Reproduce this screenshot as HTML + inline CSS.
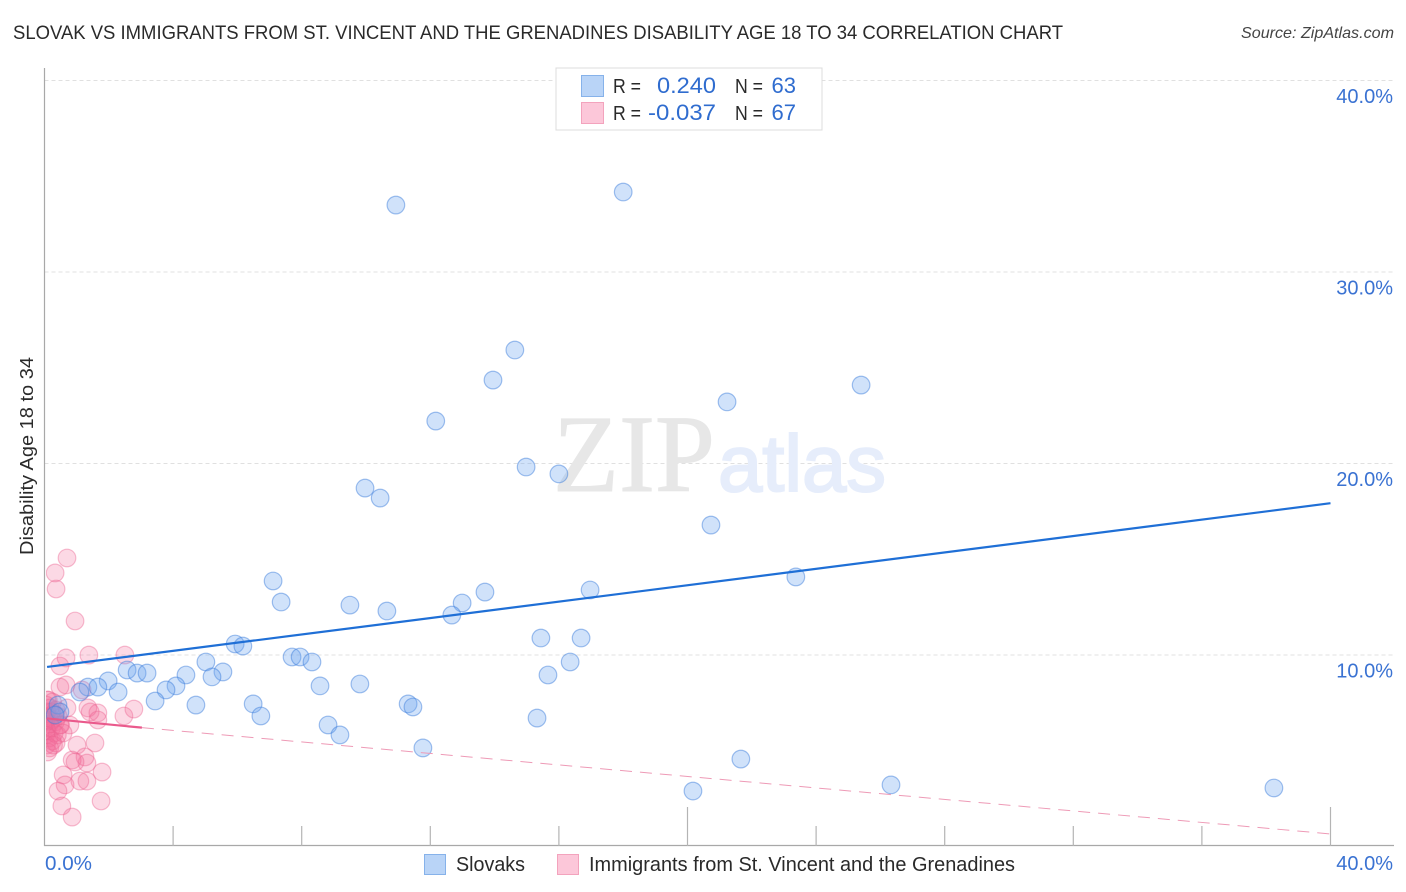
<!DOCTYPE html>
<html lang="en">
<head>
<meta charset="utf-8">
<title>Slovak vs Immigrants from St. Vincent and the Grenadines Disability Correlation Chart</title>
<style>
html,body{margin:0;padding:0;background:#fff;}
body{width:1406px;height:892px;overflow:hidden;}
svg{display:block;font-family:"Liberation Sans",sans-serif;}
</style>
</head>
<body>
<svg id="chart" width="1406" height="892" viewBox="0 0 1406 892" xmlns="http://www.w3.org/2000/svg">
  <defs>
    <clipPath id="plot-clip"><rect x="46" y="60" width="1350" height="786"/></clipPath>
  </defs>
  <rect x="0" y="0" width="1406" height="892" fill="#ffffff"/>
  <text x="13" y="39" font-size="19" fill="#2a2a2a" textLength="1050" lengthAdjust="spacingAndGlyphs">SLOVAK VS IMMIGRANTS FROM ST. VINCENT AND THE GRENADINES DISABILITY AGE 18 TO 34 CORRELATION CHART</text>
  <text x="1394" y="38" font-size="16" font-style="italic" fill="#444" text-anchor="end" textLength="153" lengthAdjust="spacingAndGlyphs">Source: ZipAtlas.com</text>
  <g id="grid"></g>
  <g>
    <text x="553" y="491" font-family="'Liberation Serif',serif" font-size="110" fill="#e7e7e7" stroke="#e7e7e7" stroke-width="1" textLength="162" lengthAdjust="spacingAndGlyphs">ZIP</text>
    <text x="718" y="491" font-size="80" fill="#e6edfb" stroke="#e6edfb" stroke-width="2" textLength="168" lengthAdjust="spacingAndGlyphs">atlas</text>
  </g>
  <g id="axes"></g>
  <g clip-path="url(#plot-clip)">
    <g id="pink-points"></g>
    <g id="blue-points"></g>
  </g>
  <g id="trends"></g>
  <g id="labels"></g>
  <text transform="translate(33,456) rotate(-90)" font-size="18" fill="#2a2a2a" text-anchor="middle" textLength="198" lengthAdjust="spacingAndGlyphs">Disability Age 18 to 34</text>

  <g>
    <rect x="556" y="68" width="266" height="62" fill="#ffffff" stroke="#dcdcdc" stroke-width="1"/>
    <rect x="581.5" y="75.5" width="22" height="21" fill="#b9d4f7" stroke="#86b2ea" stroke-width="1"/>
    <rect x="581.5" y="102.5" width="22" height="21" fill="#fcc7d9" stroke="#f3a3bd" stroke-width="1"/>
    <text x="613" y="93" font-size="20" fill="#2a2a2a" textLength="28" lengthAdjust="spacingAndGlyphs">R =</text>
    <text x="657" y="93" font-size="22" fill="#2f6ccf" textLength="59" lengthAdjust="spacingAndGlyphs">0.240</text>
    <text x="735" y="93" font-size="20" fill="#2a2a2a" textLength="28" lengthAdjust="spacingAndGlyphs">N =</text>
    <text x="796" y="93" font-size="22" fill="#2f6ccf" text-anchor="end">63</text>
    <text x="613" y="120" font-size="20" fill="#2a2a2a" textLength="28" lengthAdjust="spacingAndGlyphs">R =</text>
    <text x="648" y="120" font-size="22" fill="#2f6ccf" textLength="68" lengthAdjust="spacingAndGlyphs">-0.037</text>
    <text x="735" y="120" font-size="20" fill="#2a2a2a" textLength="28" lengthAdjust="spacingAndGlyphs">N =</text>
    <text x="796" y="120" font-size="22" fill="#2f6ccf" text-anchor="end">67</text>
  </g>

  <g>
    <rect x="424.5" y="854.5" width="21" height="20" fill="#b9d4f7" stroke="#86b2ea" stroke-width="1"/>
    <text x="456" y="871" font-size="20" fill="#2a2a2a" textLength="69" lengthAdjust="spacingAndGlyphs">Slovaks</text>
    <rect x="557.5" y="854.5" width="21" height="20" fill="#fcc7d9" stroke="#f3a3bd" stroke-width="1"/>
    <text x="589" y="871" font-size="20" fill="#2a2a2a" textLength="426" lengthAdjust="spacingAndGlyphs">Immigrants from St. Vincent and the Grenadines</text>
  </g>
</svg>
<script>
var slovakX = [10.93,18.0,14.63,13.95,25.4,21.23,12.17,14.98,16.0,9.97,10.44,20.73,7.11,23.37,16.97,13.7,12.99,7.36,9.5,10.65,12.67,15.44,16.69,5.93,6.17,7.7,7.95,8.32,5.02,16.35,2.57,2.88,3.19,4.4,5.55,5.21,15.66,1.98,1.35,1.66,2.29,1.1,4.09,3.78,8.57,9.81,3.44,4.71,6.49,11.31,11.46,6.73,15.32,8.82,9.19,11.77,21.66,20.17,26.33,38.24,0.42,0.48,0.33];
var slovakY = [33.47,34.15,25.9,24.33,24.07,23.19,22.19,19.79,19.43,18.69,18.17,16.76,13.84,14.05,13.37,13.26,12.69,12.74,12.58,12.27,12.06,10.86,10.86,10.55,10.44,9.87,9.87,9.61,9.61,9.61,9.19,9.03,9.03,8.93,9.09,8.83,8.93,8.62,8.3,8.3,8.04,8.04,8.36,8.15,8.36,8.46,7.57,7.36,7.42,7.42,7.26,6.79,6.68,6.32,5.8,5.12,4.54,2.87,3.19,3.03,7.36,7.0,6.84];
var immigrantX = [0.70,0.33,0.36,0.95,0.67,1.38,2.50,0.48,0.48,0.67,1.17,1.35,1.66,1.42,1.66,2.47,2.78,0.79,1.01,1.57,1.26,1.32,0.86,0.95,0.58,0.64,1.10,1.32,1.79,0.42,0.54,1.76,0.86,0.12,0.25,0.05,0.18,0.36,0.08,0.30,0.04,0.14,0.42,0.24,0.06,0.16,0.34,0.04,0.48,0.22,0.08,0.30,0.04,0.14,0.40,0.24,0.06,0.16,0.36,0.10,0.50,0.58,0.04,0.22,0.70,0.08,0.28];
var immigrantY = [15.04,14.26,13.42,11.75,9.82,9.97,9.97,9.40,8.30,8.41,8.15,7.21,6.95,7.0,6.58,6.79,7.15,6.32,5.27,5.38,4.65,4.33,4.49,4.39,3.71,3.19,3.39,3.39,3.86,2.87,2.09,2.35,1.51,7.62,7.52,7.36,7.21,7.10,7.0,6.89,6.79,6.68,6.79,6.58,6.48,6.37,6.48,6.21,6.32,6.16,6.01,5.90,5.80,5.64,5.80,5.48,5.27,5.12,5.38,4.91,6.32,5.90,6.58,7.0,7.21,7.62,5.27];
var slovakTrendX = [0.08,40];
var slovakTrendY = [9.35,17.9];
var immigrantSolidX = [0.08,3.03];
var immigrantSolidY = [6.66,6.18];
var immigrantDashX = [3.03,40];
var immigrantDashY = [6.18,0.63];
var yTickValues = [10,20,30,40];
var yTickLabels = ["10.0%","20.0%","30.0%","40.0%"];
var xTickValues = [4,8,12,16,20,24,28,32,36,40];
var xTallTicks = [20,40];
var xEndLabels = ["0.0%","40.0%"];

var NS = "http://www.w3.org/2000/svg";
function xScale(v){ return 44.5 + v * 32.15; }
function yScale(v){ return 846 - v * 19.15; }
function make(tag, attrs, parent){
  var el = document.createElementNS(NS, tag);
  for (var k in attrs) el.setAttribute(k, attrs[k]);
  parent.appendChild(el);
  return el;
}
var gridG = document.getElementById('grid');
var axesG = document.getElementById('axes');
var labelsG = document.getElementById('labels');
var trendsG = document.getElementById('trends');

yTickValues.forEach(function(v, i){
  var line = make('line', {x1:44.5, x2:1394, y1:yScale(v)+0.5, y2:yScale(v)+0.5, stroke:'#e0e0e0', 'stroke-width':1, 'stroke-dasharray':'4 3'}, gridG);
  
  
  var label = make('text', {x:1393, y:yScale(v)+23, 'font-size':20, fill:'#3a72d2', 'text-anchor':'end'}, labelsG);
  label.textContent = yTickLabels[i];
  
  
});

var yAxis = make('line', {x1:44.5, x2:44.5, y1:68, y2:846, stroke:'#a8a8a8', 'stroke-width':1.2}, axesG);


var xAxis = make('line', {x1:44, x2:1394, y1:845.5, y2:845.5, stroke:'#a8a8a8', 'stroke-width':1.2}, axesG);



xTickValues.forEach(function(v){
  var tall = xTallTicks.indexOf(v) >= 0;
  var tick = make('line', {x1:xScale(v), x2:xScale(v), y1:tall ? 807 : 826, y2:846, stroke:'#b4b4b4', 'stroke-width':1.2}, axesG);
  
  
});

var x0Label = make('text', {x:45, y:870, 'font-size':20, fill:'#3a72d2', textLength:47, lengthAdjust:'spacingAndGlyphs'}, labelsG);
x0Label.textContent = xEndLabels[0];


var x1Label = make('text', {x:1393, y:870, 'font-size':20, fill:'#3a72d2', 'text-anchor':'end'}, labelsG);
x1Label.textContent = xEndLabels[1];



var pinkG = document.getElementById('pink-points');
immigrantX.forEach(function(v, i){
  var c = make('circle', {cx:xScale(v), cy:yScale(immigrantY[i]), r:8.8, fill:'rgba(244,110,155,0.26)', stroke:'rgba(236,100,145,0.42)', 'stroke-width':1.2}, pinkG);
  
  
});
var blueG = document.getElementById('blue-points');
slovakX.forEach(function(v, i){
  var c = make('circle', {cx:xScale(v), cy:yScale(slovakY[i]), r:8.8, fill:'rgba(110,165,240,0.32)', stroke:'rgba(60,125,220,0.48)', 'stroke-width':1.2}, blueG);
  
  
});

var dash = make('line', {x1:xScale(immigrantDashX[0]), y1:yScale(immigrantDashY[0]), x2:xScale(immigrantDashX[1]), y2:yScale(immigrantDashY[1]), stroke:'#ee9ab6', 'stroke-width':1, 'stroke-dasharray':'12 8'}, trendsG);


var solidP = make('line', {x1:xScale(immigrantSolidX[0]), y1:yScale(immigrantSolidY[0]), x2:xScale(immigrantSolidX[1]), y2:yScale(immigrantSolidY[1]), stroke:'#ea5a8c', 'stroke-width':2.2}, trendsG);


var solidB = make('line', {x1:xScale(slovakTrendX[0]), y1:yScale(slovakTrendY[0]), x2:xScale(slovakTrendX[1]), y2:yScale(slovakTrendY[1]), stroke:'#1f6fd6', 'stroke-width':2.2}, trendsG);


</script>
</body>
</html>
